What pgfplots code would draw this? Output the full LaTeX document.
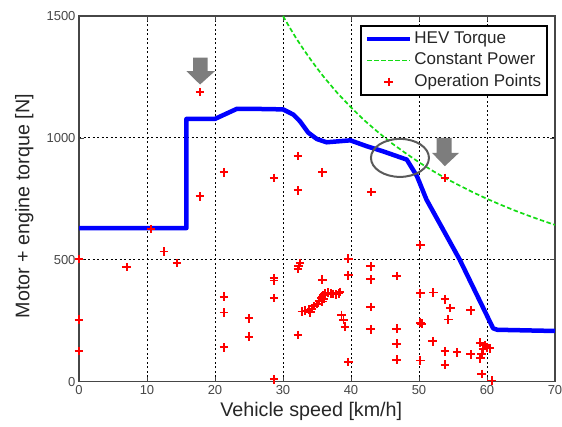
\documentclass[border=0pt]{standalone}
\usepackage{pgfplots}
\pgfplotsset{compat=1.18}
\usepackage{fontspec}
\setmainfont{Liberation Sans}
\definecolor{axgray}{RGB}{70,70,70}
\definecolor{hevblue}{RGB}{0,0,255}
\definecolor{cpgreen}{RGB}{20,220,20}
\definecolor{opred}{RGB}{255,0,0}
\definecolor{arrgray}{RGB}{125,125,125}
\definecolor{ellgray}{RGB}{90,90,90}
\begin{document}
\begin{tikzpicture}
\path[use as bounding box] (0,0) rectangle (562pt,426pt);
\begin{axis}[
  at={(79pt,44.3pt)}, anchor=south west,
  width=476pt, height=365.7pt, scale only axis,
  xmin=0, xmax=70, ymin=0, ymax=1500,
  xtick={0,10,...,70}, ytick={0,500,1000,1500},
  axis line style={axgray, line width=1.4pt},
  tick style={axgray, line width=0.8pt},
  tick align=inside, major tick length=5pt,
  grid=major,
  major grid style={black, line width=1pt, dash pattern=on 2pt off 2.5pt},
  ticklabel style={font=\fontsize{13}{15}\selectfont, text=axgray},
  /pgf/number format/assume math mode=true,
  /pgf/number format/1000 sep={},
  xlabel={Vehicle speed [km/h]},
  ylabel={Motor + engine torque [N]},
  label style={font=\fontsize{19.7}{22}\selectfont, text=black!85},
  xlabel style={at={(axis description cs:0.488,-0.095)}, anchor=base},
  ylabel style={at={(axis description cs:-0.104,0.48)}, anchor=base},
  clip mode=individual,
  legend style={at={(0.985,0.975)}, anchor=north east, draw=black, line width=1.6pt,
    font=\fontsize{17}{20}\selectfont, text=black!85, inner xsep=4pt, inner ysep=2.5pt,
    row sep=0pt,
    nodes={inner ysep=2.8pt, text height=12.2pt, text depth=3.6pt}},
  legend cell align=left,
  legend image code/.code={\draw[mark repeat=2,mark phase=2,#1] plot coordinates {(0pt,0pt) (21.5pt,0pt) (43pt,0pt)};},
]
\addplot[hevblue, line width=4.5pt, line join=round] coordinates {
 (0,630) (15.8,630) (15.8,1078) (20,1078) (23.2,1119) (25.9,1119) (30,1117)
 (31.5,1096) (32.5,1068) (33.7,1022) (35.0,995) (36.4,982) (39.9,990) (42.3,966)
 (44.7,945) (48.2,911) (49.7,843) (51.1,747) (56.0,500) (60.9,219) (61.5,213) (70,208)
};
\addlegendentry{HEV Torque}
\addplot[cpgreen, line width=1.7pt, dash pattern=on 4.5pt off 2.5pt] coordinates {
 (30,1500) (31,1452) (32,1406) (33,1364) (34,1324) (35,1286) (36,1250) (38,1184)
 (40,1125) (42,1071) (44,1023) (46,978) (48,938) (50,900) (52,865) (54,833)
 (56,804) (58,776) (60,750) (62,726) (64,703) (66,682) (68,662) (70,643)
};
\addlegendentry{Constant Power}
\addplot[only marks, mark=+, mark size=4.3pt, opred, mark options={line width=1.9pt}] coordinates {
 (0,504) (0,254) (0,126) (7.0,470) (10.6,626) (12.5,534) (14.4,487)
 (17.8,1188) (17.8,760) (21.3,859) (21.3,349) (21.3,284) (21.3,141)
 (25.0,260) (25.0,185) (28.7,836) (28.7,425) (28.7,415) (28.7,343) (28.7,10)
 (32.2,925) (32.2,785) (35.8,859) (32.5,487) (32.3,474) (32.2,462) (32.2,192)
 (35.8,418) (35.8,329)
 (32.8,288) (33.3,292) (33.8,295) (34.0,285) (34.2,300) (34.6,310) (35.0,318) (35.3,332)
 (35.6,345) (35.9,355) (36.0,340) (36.2,362) (36.6,365) (37.0,362) (37.4,360) (37.8,358)
 (38.2,362) (38.4,368)
 (38.6,274) (38.9,254) (39.1,226) (39.6,505) (39.6,436) (39.6,80)
 (43.0,778) (42.9,473) (42.9,420) (42.9,307) (42.9,215)
 (46.7,434) (46.7,217) (46.7,156) (46.7,90)
 (50.2,560) (50.2,362) (52.1,366) (50.2,242) (50.4,238) (50.2,87)
 (53.8,836) (53.8,338) (54.6,302) (54.3,255) (57.6,293) (52.0,166)
 (53.8,125) (55.6,120) (57.6,112) (53.8,70)
 (59.0,160) (59.7,151) (60.0,141) (59.4,133) (60.4,137) (59.2,114) (59.0,96)
 (59.2,32) (60.7,5)
};
\addlegendentry{Operation Points}
\fill[arrgray] (axis cs:16.8,1329) -- (axis cs:18.9,1329) -- (axis cs:18.9,1274) -- (axis cs:20.0,1274)
  -- (axis cs:17.8,1219) -- (axis cs:15.8,1274) -- (axis cs:16.8,1274) -- cycle;
\fill[arrgray] (axis cs:52.6,1000) -- (axis cs:54.8,1000) -- (axis cs:54.8,939) -- (axis cs:55.9,939)
  -- (axis cs:53.8,884) -- (axis cs:51.9,939) -- (axis cs:52.6,939) -- cycle;
\draw[ellgray, line width=2pt] (axis cs:47.2,918) ellipse [x radius=29pt, y radius=19pt];
\end{axis}
\end{tikzpicture}
\end{document}
